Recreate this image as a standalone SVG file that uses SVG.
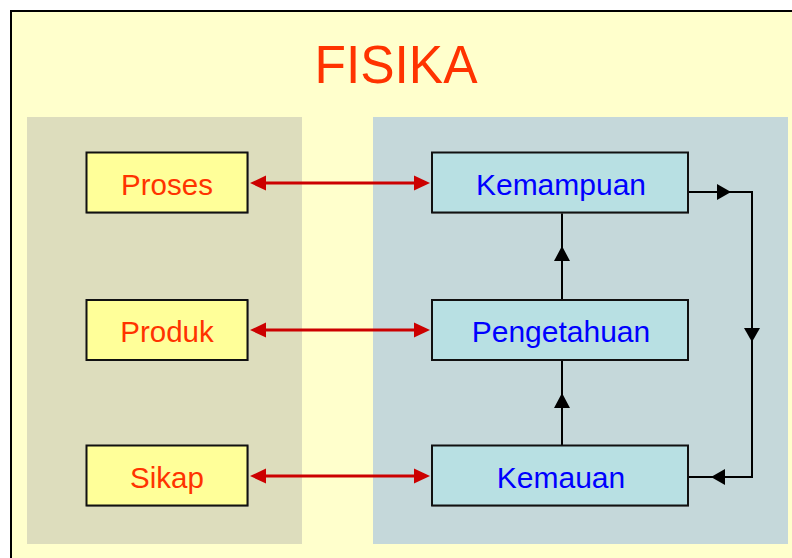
<svg xmlns="http://www.w3.org/2000/svg" width="792" height="558" viewBox="0 0 792 558">
  <defs>
    <style>
      .bg { fill: #FFFFCC; stroke: #000; stroke-width: 2; }
      .boxL { fill: #FFFF99; stroke: #111; stroke-width: 2; }
      .boxR { fill: #B8E0E3; stroke: #111; stroke-width: 2; }
      .shadow { fill: none; stroke: #888; stroke-width: 1; }
      .tL { font-family: "Liberation Sans", Arial, sans-serif; font-size: 29.5px; fill: #FF3300; text-anchor: middle; }
      .tR { font-family: "Liberation Sans", Arial, sans-serif; font-size: 30px; fill: #0000FF; text-anchor: middle; }
      .red { stroke: #CC0000; stroke-width: 3; fill: none; }
      .blk { stroke: #000; stroke-width: 2; fill: none; }
    </style>
  </defs>
  <rect x="11" y="11" width="800" height="570" class="bg"/>
  <text x="396" y="83" font-family="'Liberation Sans', Arial, sans-serif" font-size="54" fill="#FF3300" text-anchor="middle" textLength="163" lengthAdjust="spacingAndGlyphs">FISIKA</text>
  <rect x="27" y="117" width="275" height="427" fill="#DDDDBD"/>
  <rect x="373" y="117" width="415" height="427" fill="#C5D8DA"/>

  <g id="connectors">
    <g id="red-arrows">
      <line x1="264" y1="183" x2="415" y2="183" class="red"/>
      <polygon points="250,183 266,175.5 266,190.5" fill="#CC0000"/>
      <polygon points="430,183 414,175.5 414,190.5" fill="#CC0000"/>
      <line x1="264" y1="330" x2="415" y2="330" class="red"/>
      <polygon points="250,330 266,322.5 266,337.5" fill="#CC0000"/>
      <polygon points="430,330 414,322.5 414,337.5" fill="#CC0000"/>
      <line x1="264" y1="476" x2="415" y2="476" class="red"/>
      <polygon points="250,476 266,468.5 266,483.5" fill="#CC0000"/>
      <polygon points="430,476 414,468.5 414,483.5" fill="#CC0000"/>
    </g>
    <g id="black-arrows">
      <polyline points="688,192 752,192 752,477 688,477" class="blk"/>
      <polygon points="731,192 717,184 717,200" fill="#000"/>
      <polygon points="752,342 744,328 760,328" fill="#000"/>
      <polygon points="711,477 725,469 725,485" fill="#000"/>
      <line x1="562" y1="300" x2="562" y2="212" class="blk"/>
      <polygon points="562,246 554,261 570,261" fill="#000"/>
      <line x1="562" y1="446" x2="562" y2="360" class="blk"/>
      <polygon points="562,393 554,408 570,408" fill="#000"/>
    </g>
  </g>

  <g id="proses">
    <rect x="87" y="153" width="161" height="60" class="shadow"/>
    <rect x="86.5" y="152.5" width="161" height="60" class="boxL"/>
    <text x="167" y="195" class="tL">Proses</text>
  </g>
  <g id="produk">
    <rect x="87" y="300.5" width="161" height="60" class="shadow"/>
    <rect x="86.5" y="300" width="161" height="60" class="boxL"/>
    <text x="167" y="342" class="tL">Produk</text>
  </g>
  <g id="sikap">
    <rect x="87" y="446" width="161" height="60" class="shadow"/>
    <rect x="86.5" y="445.5" width="161" height="60" class="boxL"/>
    <text x="167" y="488" class="tL">Sikap</text>
  </g>
  <g id="kemampuan">
    <rect x="432.5" y="153" width="256" height="60" class="shadow"/>
    <rect x="432" y="152.5" width="256" height="60" class="boxR"/>
    <text x="561" y="195" class="tR">Kemampuan</text>
  </g>
  <g id="pengetahuan">
    <rect x="432.5" y="300.5" width="256" height="60" class="shadow"/>
    <rect x="432" y="300" width="256" height="60" class="boxR"/>
    <text x="561" y="342" class="tR">Pengetahuan</text>
  </g>
  <g id="kemauan">
    <rect x="432.5" y="446" width="256" height="60" class="shadow"/>
    <rect x="432" y="445.5" width="256" height="60" class="boxR"/>
    <text x="561" y="488" class="tR">Kemauan</text>
  </g>
</svg>
